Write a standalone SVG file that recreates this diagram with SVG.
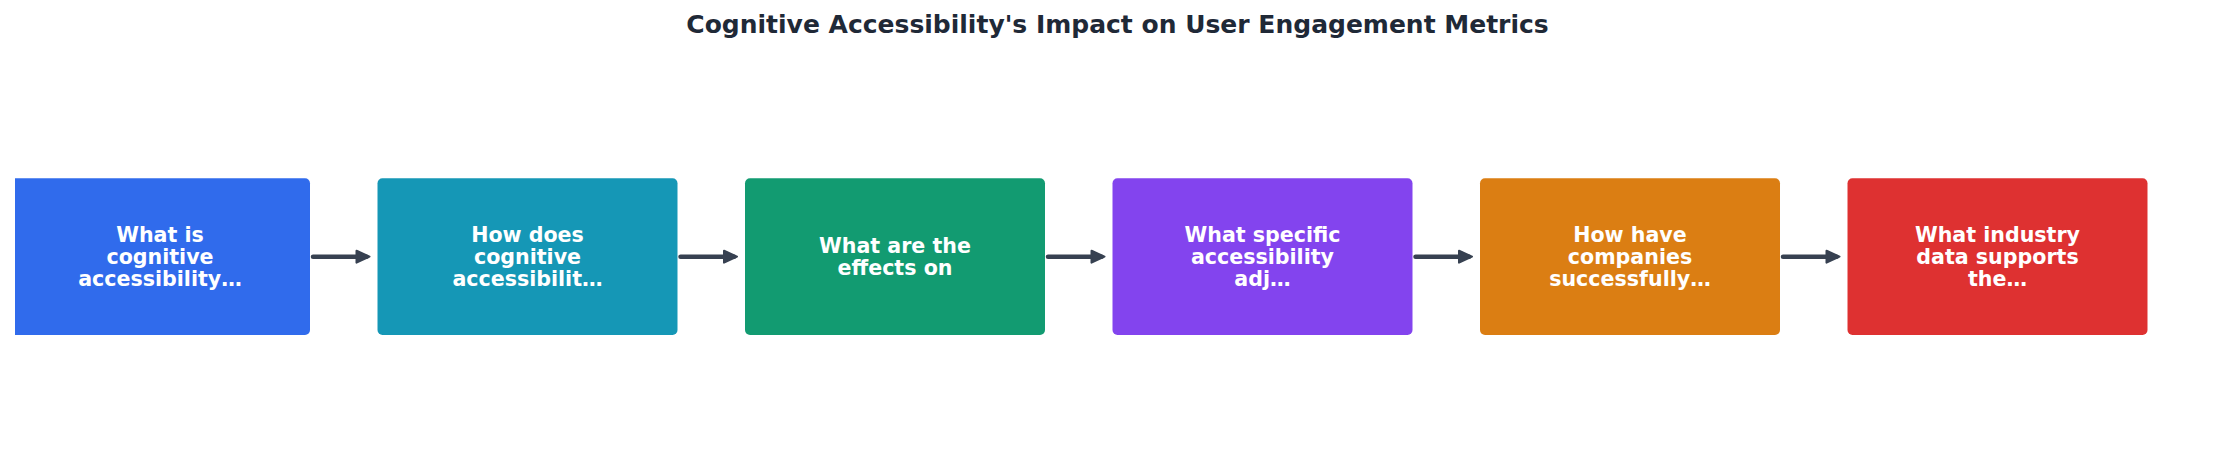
<svg xmlns="http://www.w3.org/2000/svg" width="2235" height="462" viewBox="0 0 2235 462">
<defs>
<style>
.title{font-family:"DejaVu Sans","Liberation Sans",sans-serif;font-weight:bold;font-size:25px;fill:#1f2937}
.lbl{font-family:"DejaVu Sans","Liberation Sans",sans-serif;font-weight:bold;font-size:20.6px;fill:#ffffff;text-anchor:middle}
.box{fill-opacity:0.95}
.conn{stroke:#374151;stroke-width:4.5;stroke-linecap:round;fill:none;marker-end:url(#ah)}
</style>
<marker id="ah" markerUnits="userSpaceOnUse" markerWidth="18" markerHeight="18" viewBox="-2 -2 18 18" refX="10" refY="7" orient="auto">
<path d="M0,1 L13,7 L0,13 Z" fill="#374151" stroke="#374151" stroke-width="2" stroke-linejoin="round"/>
</marker>
<clipPath id="axclip"><rect x="15" y="0" width="2220" height="462"/></clipPath>
</defs>
<rect width="2235" height="462" fill="#ffffff"/>
<text class="title" x="1117.5" y="33.3" text-anchor="middle">Cognitive Accessibility's Impact on User Engagement Metrics</text>
<g id="connectors">
<line class="conn" x1="313" y1="256.7" x2="366.5" y2="256.7"/>
<line class="conn" x1="680.5" y1="256.7" x2="734" y2="256.7"/>
<line class="conn" x1="1048" y1="256.7" x2="1101.5" y2="256.7"/>
<line class="conn" x1="1415.5" y1="256.7" x2="1469" y2="256.7"/>
<line class="conn" x1="1783" y1="256.7" x2="1836.5" y2="256.7"/>
</g>
<g id="node1">
<rect class="box" x="10" y="178.3" width="300" height="156.7" rx="5" fill="#2563eb" clip-path="url(#axclip)"/>
<text class="lbl"><tspan x="160" y="242">What is</tspan><tspan x="160" y="264.2">cognitive</tspan><tspan x="160" y="286.4">accessibility…</tspan></text>
</g>
<g id="node2">
<rect class="box" x="377.5" y="178.3" width="300" height="156.7" rx="5" fill="#0891b2"/>
<text class="lbl"><tspan x="527.5" y="242">How does</tspan><tspan x="527.5" y="264.2">cognitive</tspan><tspan x="527.5" y="286.4">accessibilit…</tspan></text>
</g>
<g id="node3">
<rect class="box" x="745" y="178.3" width="300" height="156.7" rx="5" fill="#059669"/>
<text class="lbl"><tspan x="895" y="252.8">What are the</tspan><tspan x="895" y="275">effects on</tspan></text>
</g>
<g id="node4">
<rect class="box" x="1112.5" y="178.3" width="300" height="156.7" rx="5" fill="#7c3aed"/>
<text class="lbl"><tspan x="1262.5" y="242">What specific</tspan><tspan x="1262.5" y="264.2">accessibility</tspan><tspan x="1262.5" y="286.4">adj…</tspan></text>
</g>
<g id="node5">
<rect class="box" x="1480" y="178.3" width="300" height="156.7" rx="5" fill="#d97706"/>
<text class="lbl"><tspan x="1630" y="242">How have</tspan><tspan x="1630" y="264.2">companies</tspan><tspan x="1630" y="286.4">successfully…</tspan></text>
</g>
<g id="node6">
<rect class="box" x="1847.5" y="178.3" width="300" height="156.7" rx="5" fill="#dc2626"/>
<text class="lbl"><tspan x="1997.5" y="242">What industry</tspan><tspan x="1997.5" y="264.2">data supports</tspan><tspan x="1997.5" y="286.4">the…</tspan></text>
</g>
</svg>
